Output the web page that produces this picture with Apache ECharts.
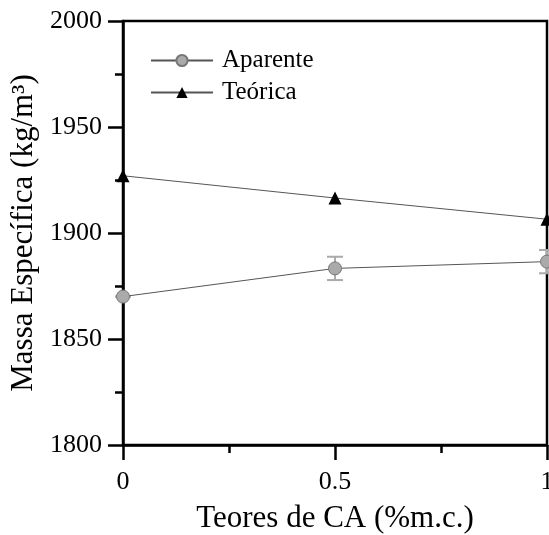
<!DOCTYPE html>
<html><head><meta charset="utf-8">
<script src="https://cdn.jsdelivr.net/npm/echarts@6/dist/echarts.min.js"></script>
<style>html,body{margin:0;padding:0;background:#fff}#c{width:549px;height:535px}</style>
</head><body><div id="c"></div>
<script>
const xValues = [0, 0.5, 1];
const aparente = [1870, 1883.3, 1886.5];
const aparenteErr = [0, 5.5, 5.5];
const teorica = [1927, 1916.5, 1906.5];
const xTickLabels = {0: '0', 0.5: '0.5', 1: '1'};

const font = 'Liberation Serif';
const chart = echarts.init(document.getElementById('c'));
const errData = xValues.map((x, i) => [x, aparente[i] - aparenteErr[i], aparente[i] + aparenteErr[i]]);
chart.setOption({
  animation: false,
  grid: {left: 123, right: 2, top: 21, bottom: 90, containLabel: false, outerBoundsMode: 'none',
         show: true, borderColor: '#000', borderWidth: 2.5, backgroundColor: 'transparent'},
  legend: {
    left: 145, top: 43, orient: 'vertical', itemGap: 7, itemWidth: 62, itemHeight: 14,
    textStyle: {fontFamily: font, fontSize: 25, color: '#000', padding: [0, 0, 0, 4]},
    data: [{name: 'Aparente'}, {name: 'Teórica'}]
  },
  xAxis: {
    type: 'value', min: 0, max: 1, interval: 0.5,
    name: 'Teores de CA (%m.c.)', nameLocation: 'middle', nameGap: 58,
    nameTextStyle: {fontFamily: font, fontSize: 31, color: '#000'},
    axisLine: {show: true, lineStyle: {color: '#000', width: 2.5}},
    axisTick: {show: true, inside: false, length: 15, lineStyle: {color: '#000', width: 2.5}},
    minorTick: {show: true, splitNumber: 2, length: 8, lineStyle: {color: '#000', width: 2.5}},
    axisLabel: {margin: 24, fontFamily: font, fontSize: 26, color: '#000', formatter: v => xTickLabels[v] !== undefined ? xTickLabels[v] : ''},
    splitLine: {show: false}
  },
  yAxis: {
    type: 'value', min: 1800, max: 2000, interval: 50,
    name: 'Massa Específica (kg/m³)', nameLocation: 'middle', nameGap: 84,
    nameTextStyle: {fontFamily: font, fontSize: 31, color: '#000'},
    axisLine: {show: true, lineStyle: {color: '#000', width: 2.5}},
    axisTick: {show: true, inside: false, length: 15, lineStyle: {color: '#000', width: 2.5}},
    minorTick: {show: true, splitNumber: 2, length: 8, lineStyle: {color: '#000', width: 2.5}},
    axisLabel: {margin: 21, fontFamily: font, fontSize: 26, color: '#000', formatter: v => String(v)},
    splitLine: {show: false}
  },
  series: [
    {
      name: 'Aparente', type: 'line', data: xValues.map((x, i) => [x, aparente[i]]),
      symbol: 'circle', symbolSize: 13,
      itemStyle: {color: '#aaaaaa', borderColor: '#777', borderWidth: 1},
      lineStyle: {color: '#555', width: 1}, z: 3
    },
    {
      name: 'Teórica', type: 'line', data: xValues.map((x, i) => [x, teorica[i]]),
      symbol: 'triangle', symbolSize: 13,
      itemStyle: {color: '#000'},
      lineStyle: {color: '#555', width: 1}, z: 3
    },
    {
      type: 'custom', name: 'err', data: errData, z: 2,
      renderItem: (params, api) => {
        const x = api.value(0);
        const lo = api.coord([x, api.value(1)]);
        const hi = api.coord([x, api.value(2)]);
        const w = 8;
        const style = {stroke: '#aaaaaa', lineWidth: 2};
        return {type: 'group', children: [
          {type: 'line', shape: {x1: lo[0], y1: lo[1], x2: hi[0], y2: hi[1]}, style},
          {type: 'line', shape: {x1: lo[0] - w, y1: lo[1], x2: lo[0] + w, y2: lo[1]}, style},
          {type: 'line', shape: {x1: hi[0] - w, y1: hi[1], x2: hi[0] + w, y2: hi[1]}, style}
        ]};
      }
    }
  ]
});
</script></body></html>
